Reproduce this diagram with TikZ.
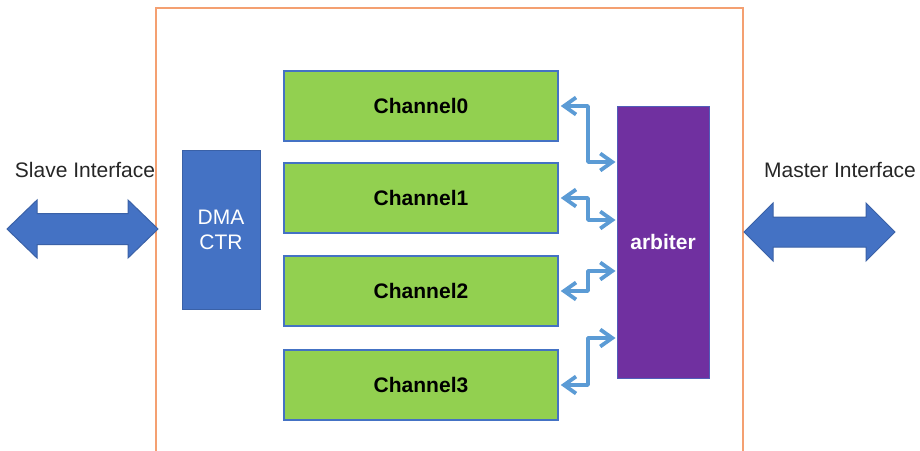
\documentclass[tikz,border=0pt]{standalone}
\usepackage{fontspec}
\setmainfont{Liberation Sans}
\usetikzlibrary{arrows.meta}
\definecolor{frameorange}{HTML}{F4A071}
\definecolor{ctrblue}{HTML}{4472C4}
\definecolor{chgreen}{HTML}{92D050}
\definecolor{arbpurple}{HTML}{7030A0}
\definecolor{linkblue}{HTML}{5B9BD5}
\definecolor{labelgray}{HTML}{262626}
\tikzset{
  chbox/.style={draw=ctrblue, line width=1.5pt, fill=chgreen, minimum width=274pt, minimum height=70pt,
    inner sep=0pt, font=\fontsize{21}{24}\selectfont\bfseries},
  barb/.tip={Straight Barb[length=12pt,width=17pt,line width=3.8pt]},
  link/.style={draw=linkblue, line width=3.8pt, line join=round, barb-barb},
  bigarrow/.style={fill=ctrblue, draw=ctrblue!85!black, line width=1pt, line join=miter},
  iflabel/.style={text=labelgray, font=\fontsize{21}{24}\selectfont}
}
\begin{document}
\begin{tikzpicture}[x=1pt,y=-1pt]
  \useasboundingbox[fill=white] (0,0) rectangle (920,450);

  % enclosing frame, open at the bottom
  \draw[frameorange, line width=2pt] (155.5,452) -- (155.5,7.5) -- (742.5,7.5) -- (742.5,452);

  % controller
  \node[draw=ctrblue!85!black, line width=1pt, fill=ctrblue, minimum width=78pt, minimum height=159pt,
        inner sep=0pt, align=center, text=white, font=\fontsize{21}{25}\selectfont]
        (ctr) at (221,229.5) {DMA\\CTR};

  % channels
  \node[chbox] (ch0) at (421,106) {Channel0};
  \node[chbox] (ch1) at (421,198) {Channel1};
  \node[chbox] (ch2) at (421,291) {Channel2};
  \node[chbox] (ch3) at (421,385) {Channel3};

  % arbiter
  \node[draw=ctrblue!70!arbpurple, line width=1pt, fill=arbpurple, minimum width=92pt, minimum height=272pt,
        inner sep=0pt, text=white, font=\fontsize{21}{24}\selectfont\bfseries]
        (arb) at (663,242) {arbiter};

  % channel <-> arbiter links
  \coordinate (a0) at (arb.west |- {(0,162)});
  \coordinate (a1) at (arb.west |- {(0,220)});
  \coordinate (a2) at (arb.west |- {(0,271)});
  \coordinate (a3) at (arb.west |- {(0,338)});
  \draw[link] ([xshift=2pt]ch0.east) -| (588,134) |- ([xshift=-1pt]a0);
  \draw[link] ([xshift=2pt]ch1.east) -| (588,209) |- ([xshift=-1pt]a1);
  \draw[link] ([xshift=2pt]ch2.east) -| (588,281) |- ([xshift=-1pt]a2);
  \draw[link] ([xshift=2pt]ch3.east) -| (588,360) |- ([xshift=-1pt]a3);

  % interface labels
  \node[iflabel] (slavelbl) at (85,170) {Slave Interface};
  \node[iflabel] (masterlbl) at (840,170) {Master Interface};

  % interface double arrows
  \draw[bigarrow] (7,229) -- (37,200) -- (37,213.5) -- (128,213.5) -- (128,200) -- (158,229)
        -- (128,258) -- (128,244.5) -- (37,244.5) -- (37,258) -- cycle;
  \draw[bigarrow] (744,232) -- (773,203) -- (773,217) -- (866,217) -- (866,203) -- (895,232)
        -- (866,261) -- (866,247) -- (773,247) -- (773,261) -- cycle;
\end{tikzpicture}
\end{document}
